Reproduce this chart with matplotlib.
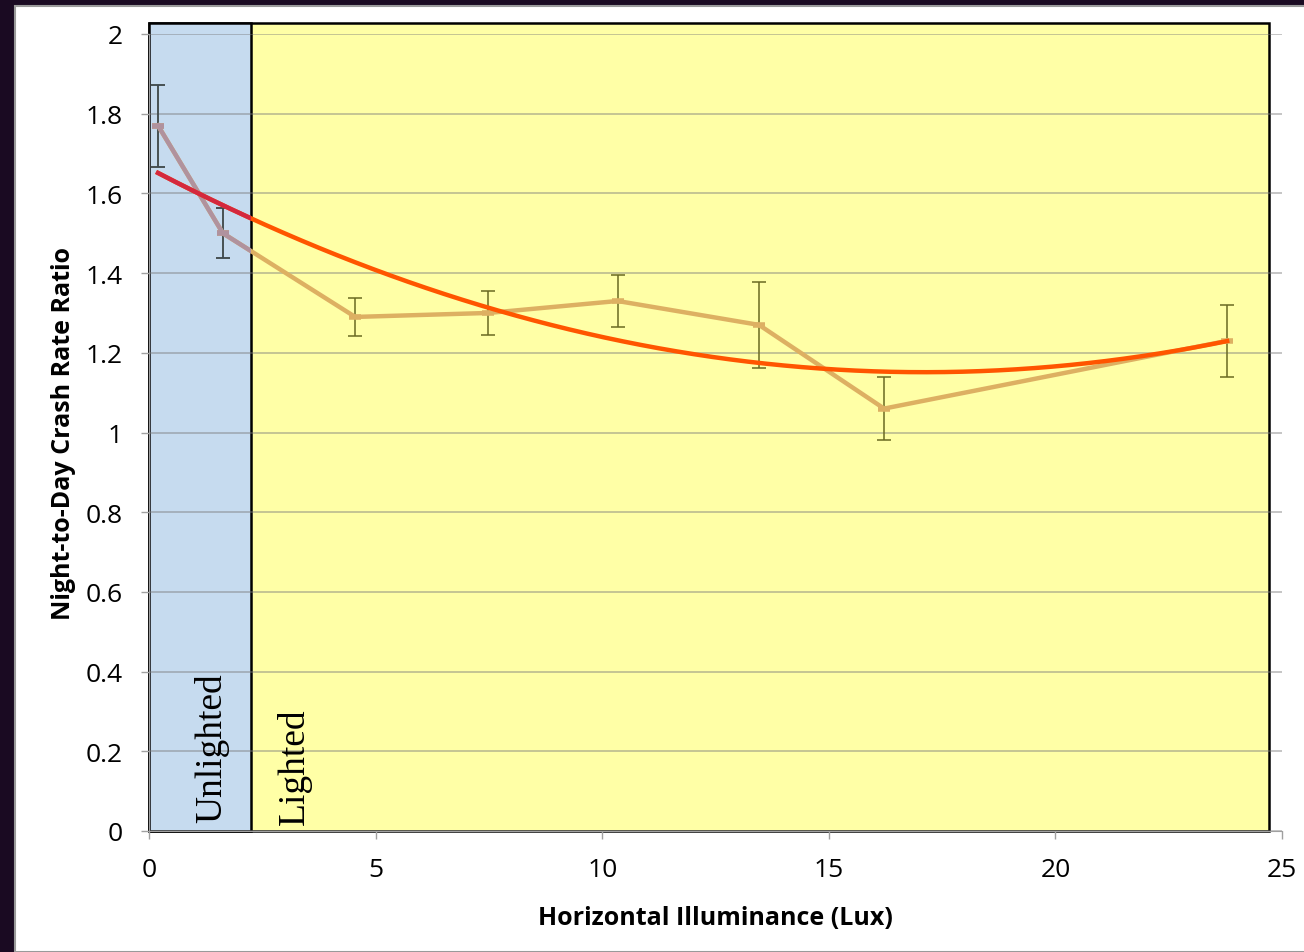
import matplotlib
matplotlib.use('Agg')
import matplotlib.pyplot as plt
from matplotlib.patches import Rectangle
import numpy as np

# data
lux = [0.20, 1.63, 4.55, 7.49, 10.34, 13.46, 16.22, 23.79]
ratio = [1.77, 1.50, 1.29, 1.30, 1.33, 1.27, 1.06, 1.23]
err = [0.103, 0.063, 0.048, 0.055, 0.065, 0.108, 0.079, 0.090]
unlit_limit = 2.25
yticks = [0, 0.2, 0.4, 0.6, 0.8, 1, 1.2, 1.4, 1.6, 1.8, 2]
xticks = [0, 5, 10, 15, 20, 25]

plt.rcParams['font.family'] = ['Open Sans', 'DejaVu Sans']

fig = plt.figure(figsize=(13.04, 9.53), dpi=100, facecolor='#1a0a22')
# white slide area
fig.patches.append(Rectangle((15 / 1304, 0), 1, 946 / 953, transform=fig.transFigure,
                             facecolor='white', edgecolor='#9a9a9a', lw=1.5, zorder=-10))
ax = fig.add_axes([149 / 1304, 121 / 953, 1133 / 1304, 797 / 953])
ax.set_facecolor('none')

# shaded regions
lit = Rectangle((0, 0), 24.72, 2.027, facecolor='#ffffa6', edgecolor='black', lw=1.8,
                zorder=1, clip_on=False)
unlit = Rectangle((0, 0), unlit_limit, 2.027, facecolor='#c6dbef', edgecolor='black', lw=1.8,
                  zorder=1.1, clip_on=False)
ax.add_patch(lit)
ax.add_patch(unlit)

# trend line (2nd order polynomial)
coef = np.polyfit(lux, ratio, 2)
xs = np.linspace(lux[0], lux[-1], 300)
ys = np.polyval(coef, xs)

def draw(clip, line_c, trend_c, err_c):
    eb = ax.errorbar(lux, ratio, yerr=err, fmt='none', ecolor=err_c, elinewidth=1.1,
                     capsize=5, capthick=1.1, zorder=2)
    ln, = ax.plot(lux, ratio, color=line_c, lw=3.2, marker='_', ms=9, mew=4, zorder=2.2)
    tr, = ax.plot(xs, ys, color=trend_c, lw=3.2, zorder=3)
    if clip is not None:
        for art in [ln, tr, *eb.lines[1], *eb.lines[2]]:
            art.set_clip_path(clip)

draw(None, '#ddb062', '#ff5500', '#6a6a22')
draw(unlit, '#b0929e', '#d4283e', '#3a4658')

ax.text(1.38, 0.022, 'Unlighted', rotation=90, ha='center', va='bottom',
        family=['Liberation Serif'], fontsize=27, zorder=4)
ax.text(3.2, 0.017, 'Lighted', rotation=90, ha='center', va='bottom',
        family=['Liberation Serif'], fontsize=27, zorder=4)

ax.set_xlim(0, 25)
ax.set_ylim(0, 2)
ax.set_xticks(xticks)
ax.set_yticks(yticks)
ax.set_xticklabels([str(t) for t in xticks])
ax.set_yticklabels([('%g' % t) for t in yticks])
ax.grid(axis='y', color='#7a7a7a', alpha=0.55, lw=1.1)
ax.set_axisbelow('line')
for s in ['top', 'right']:
    ax.spines[s].set_visible(False)
for s in ['left', 'bottom']:
    ax.spines[s].set_color('#a0a0a0')
ax.tick_params(colors='#a0a0a0', labelcolor='black', length=6, width=1, labelsize=19, pad=13)
ax.set_xlabel('Horizontal Illuminance (Lux)', fontsize=18, fontweight='bold', labelpad=16)
ax.set_ylabel('Night-to-Day Crash Rate Ratio', fontsize=18, fontweight='bold', labelpad=7)

plt.savefig('out.png', dpi=100, facecolor=fig.get_facecolor())
plt.close(fig)
